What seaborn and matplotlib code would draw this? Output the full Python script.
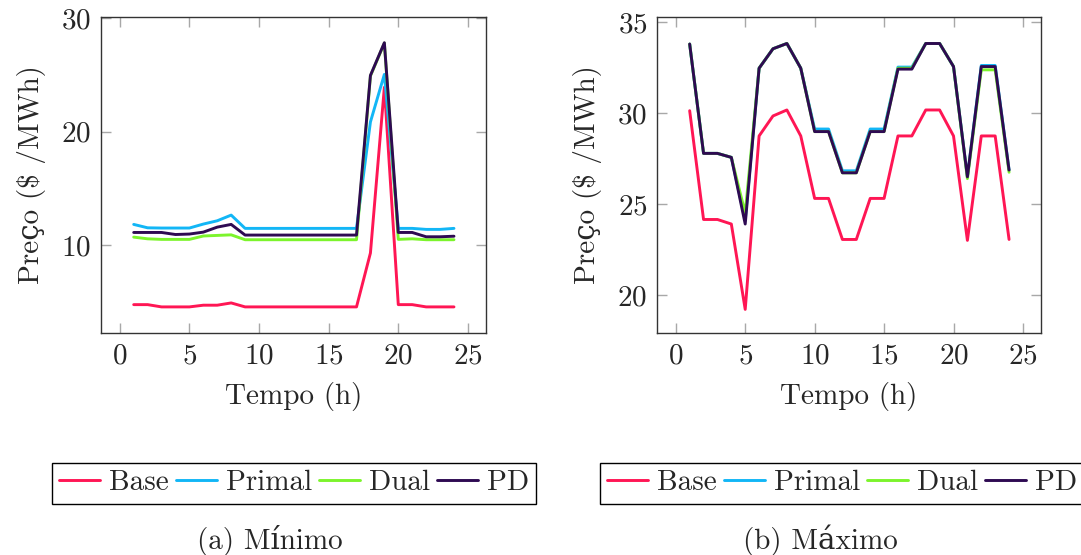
import pandas as pd
import numpy as np
import seaborn as sns
import matplotlib.pyplot as plt

# horas do dia
horas = list(range(1, 25))
series = ["Base", "Primal", "Dual", "PD"]
cores = {"Base": "#ff1654", "Primal": "#12b6f6", "Dual": "#7cf42c", "PD": "#2e0a52"}

# (a) Minimo
min_base = [4.75, 4.75, 4.55, 4.55, 4.55, 4.7, 4.7, 4.9, 4.55, 4.55, 4.55, 4.55,
            4.55, 4.55, 4.55, 4.55, 4.55, 9.3, 23.9, 4.75, 4.75, 4.55, 4.55, 4.55]
min_primal = [11.82, 11.52, 11.5, 11.5, 11.5, 11.85, 12.14, 12.64, 11.47, 11.47, 11.47, 11.47,
              11.47, 11.47, 11.47, 11.47, 11.47, 20.85, 25.04, 11.47, 11.47, 11.38, 11.38, 11.47]
min_dual = [10.7, 10.55, 10.5, 10.5, 10.5, 10.8, 10.85, 10.9, 10.47, 10.47, 10.47, 10.47,
            10.47, 10.47, 10.47, 10.47, 10.47, 24.9, 27.8, 10.5, 10.55, 10.47, 10.47, 10.47]
min_pd = [11.11, 11.11, 11.11, 10.93, 10.97, 11.14, 11.58, 11.82, 10.88, 10.88, 10.88, 10.88,
          10.88, 10.88, 10.88, 10.88, 10.88, 24.95, 27.83, 11.11, 11.11, 10.73, 10.73, 10.78]

# (b) Maximo
max_base = [30.14, 24.15, 24.15, 23.9, 19.2, 28.75, 29.85, 30.18, 28.75, 25.31, 25.31, 23.05,
            23.05, 25.31, 25.31, 28.75, 28.75, 30.18, 30.18, 28.75, 23.0, 28.75, 28.75, 23.05]
max_primal = [33.81, 27.79, 27.79, 27.57, 24.1, 32.48, 33.55, 33.84, 32.48, 29.13, 29.13, 26.83,
              26.83, 29.13, 29.13, 32.54, 32.54, 33.84, 33.84, 32.57, 26.5, 32.63, 32.63, 26.87]
max_dual = [33.81, 27.79, 27.79, 27.57, 24.5, 32.48, 33.55, 33.84, 32.48, 28.99, 28.99, 26.72,
            26.72, 28.99, 28.99, 32.48, 32.48, 33.84, 33.84, 32.57, 26.4, 32.39, 32.39, 26.75]
max_pd = [33.81, 27.79, 27.79, 27.57, 23.9, 32.48, 33.55, 33.84, 32.48, 28.99, 28.99, 26.72,
          26.72, 28.99, 28.99, 32.43, 32.43, 33.84, 33.84, 32.57, 26.5, 32.57, 32.57, 26.87]


def monta_df(base, primal, dual, pd_):
    """junta as series num dataframe longo pro seaborn"""
    partes = []
    for nome, vals in zip(series, [base, primal, dual, pd_]):
        partes.append(pd.DataFrame({"Tempo": horas, "Preco": vals, "Serie": nome}))
    return pd.concat(partes, ignore_index=True)


df_min = monta_df(min_base, min_primal, min_dual, min_pd)
df_max = monta_df(max_base, max_primal, max_dual, max_pd)

sns.set_style("ticks")
plt.rcParams["font.family"] = ["cmr10", "DejaVu Serif"]
plt.rcParams["axes.formatter.use_mathtext"] = True
FS = 21
plt.rcParams["font.size"] = FS

fig = plt.figure(figsize=(10.81, 5.55), dpi=100)
ax1 = fig.add_axes([0.0934, 0.4, 0.3562, 0.5694])
ax2 = fig.add_axes([0.6078, 0.4, 0.3552, 0.5694])


def desenha(ax, dados, ylim, yticks):
    sns.lineplot(data=dados, x="Tempo", y="Preco", hue="Serie", hue_order=series,
                 palette=cores, linewidth=2.1, ax=ax, legend=False)
    ax.set_xlim(-1.35, 26.3)
    ax.set_ylim(*ylim)
    ax.set_xticks([0, 5, 10, 15, 20, 25])
    ax.set_yticks(yticks)
    ax.tick_params(direction="in", length=7, width=1, color="#a8a8a8",
                   top=True, right=True, labelsize=FS, pad=7)
    for s in ax.spines.values():
        s.set_color("#333333")
        s.set_linewidth(1)
    ax.set_xlabel("Tempo (h)", fontsize=FS, labelpad=9)
    ax.set_ylabel("Preço ($ /MWh)", fontsize=FS, labelpad=11)


desenha(ax1, df_min, (2.25, 30.1), [10, 20, 30])
desenha(ax2, df_max, (17.9, 35.3), [20, 25, 30, 35])

for ax, cx in [(ax1, 0.272), (ax2, 0.779)]:
    handles = ax.get_lines()[:4]
    leg = fig.legend(handles, series, loc="center", bbox_to_anchor=(cx, 0.1297),
                     ncol=4, fontsize=FS, frameon=True, fancybox=False,
                     handlelength=1.4, handletextpad=0.3, columnspacing=0.25,
                     borderpad=0.25, borderaxespad=0)
    leg.get_frame().set_edgecolor("black")
    leg.get_frame().set_linewidth(1)
    leg.get_frame().set_alpha(1)

fig.text(0.25, 1 - 540 / 555, "(a) Mínimo", ha="center", va="center", fontsize=FS)
fig.text(0.7586, 1 - 540 / 555, "(b) Máximo", ha="center", va="center", fontsize=FS)

plt.savefig("out.png", dpi=100)
